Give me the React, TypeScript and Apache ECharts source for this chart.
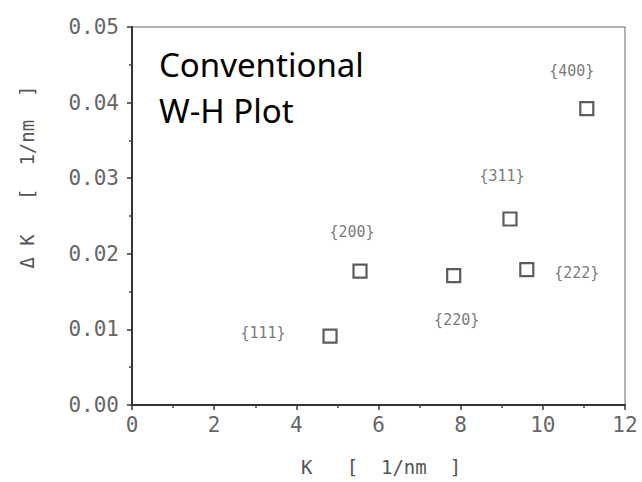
import React, { useEffect, useRef } from "react";
import * as echarts from "echarts";

const kValues = [4.82, 5.55, 7.83, 9.61, 9.2, 11.07];
const deltaK = [0.0091, 0.0177, 0.0171, 0.0179, 0.0246, 0.0392];
const planes = ["{111}", "{200}", "{220}", "{222}", "{311}", "{400}"];
const labelOffsets = [
  [-67, -3],
  [-8, -39],
  [3, 44],
  [50, 3],
  [-8, -43],
  [-15, -38],
];
const xTicks = [0, 2, 4, 6, 8, 10, 12];
const yTicks = [0, 0.01, 0.02, 0.03, 0.04, 0.05];

const MONO = "DejaVu Sans Mono";

export default function App() {
  const ref = useRef<HTMLDivElement>(null);
  useEffect(() => {
    if (!ref.current) return;
    const chart = echarts.init(ref.current, undefined, { renderer: "svg" });
    const data = kValues.map((k, i) => ({
      value: [k, deltaK[i]],
      label: {
        show: true,
        formatter: planes[i],
        position: "inside",
        offset: labelOffsets[i],
      },
    }));
    chart.setOption({
      animation: false,
      backgroundColor: "#ffffff",
      grid: {
        left: 132,
        right: 17,
        top: 27,
        bottom: 77,
        show: true,
        borderColor: "#666",
        borderWidth: 1,
        backgroundColor: "transparent",
      },
      xAxis: {
        type: "value",
        min: xTicks[0],
        max: xTicks[xTicks.length - 1],
        interval: 2,
        axisLine: { show: true, lineStyle: { color: "#333", width: 2 } },
        axisTick: { show: true, inside: false, length: 5, lineStyle: { color: "#333", width: 1.5 } },
        minorTick: { show: true, splitNumber: 2, length: 3, lineStyle: { color: "#444", width: 1.5 } },
        splitLine: { show: false },
        axisLabel: {
          color: "#666",
          fontFamily: MONO,
          fontSize: 21,
          margin: 9,
        },
      },
      yAxis: {
        type: "value",
        min: yTicks[0],
        max: yTicks[yTicks.length - 1],
        interval: 0.01,
        axisLine: { show: true, lineStyle: { color: "#333", width: 2 } },
        axisTick: { show: true, inside: false, length: 5, lineStyle: { color: "#333", width: 1.5 } },
        minorTick: { show: true, splitNumber: 2, length: 3, lineStyle: { color: "#444", width: 1.5 } },
        splitLine: { show: false },
        axisLabel: {
          color: "#666",
          fontFamily: MONO,
          fontSize: 21,
          margin: 13,
          formatter: (v: number) => v.toFixed(2),
        },
      },
      series: [
        {
          type: "scatter",
          symbol: "rect",
          symbolSize: 13,
          itemStyle: { color: "#ffffff", borderColor: "#333", borderWidth: 2.2 },
          label: {
            color: "#555",
            fontFamily: MONO,
            fontSize: 15,
          },
          data,
        },
      ],
      graphic: [
        {
          type: "text",
          left: 159,
          top: 41,
          style: {
            text: "Conventional\nW-H Plot",
            font: '33px "Noto Sans"',
            fill: "#000",
            lineHeight: 46,
          },
        },
        {
          type: "text",
          x: 381,
          y: 467,
          style: {
            text: "K   [  1/nm  ]",
            font: "19px " + MONO,
            fill: "#555",
            align: "center",
            verticalAlign: "middle",
          },
        },
        {
          type: "text",
          x: 27,
          y: 177,
          rotation: Math.PI / 2,
          style: {
            text: "Δ K   [  1/nm  ]",
            font: "19px " + MONO,
            fill: "#555",
            align: "center",
            verticalAlign: "middle",
          },
        },
      ],
    });
    return () => chart.dispose();
  }, []);
  return (
    <div
      ref={ref}
      style={{ position: "fixed", left: 0, top: 0, width: 642, height: 482 }}
    />
  );
}
